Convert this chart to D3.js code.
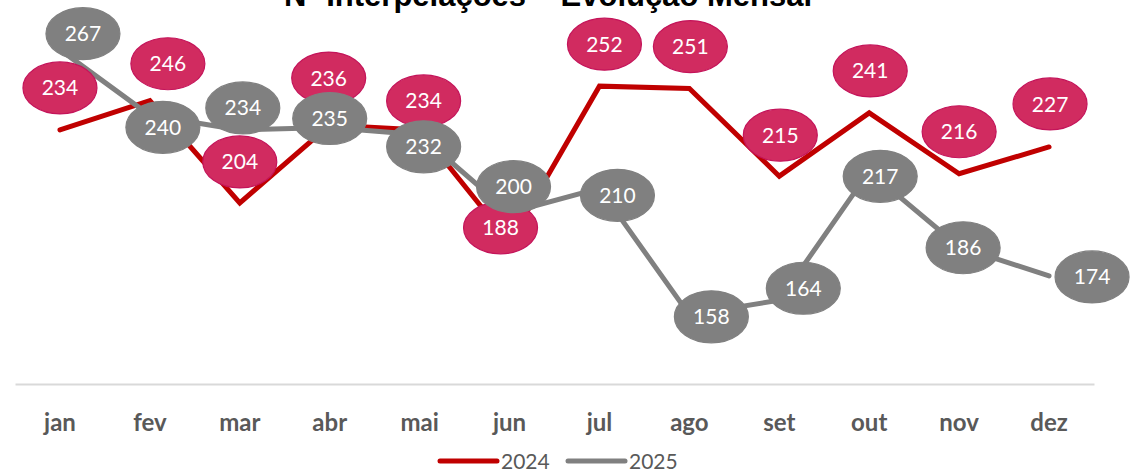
<!DOCTYPE html>
<html>
<head>
<meta charset="utf-8" />
<title>Nº Interpelações – Evolução Mensal</title>
<script src="https://d3js.org/d3.v7.min.js"></script>
<style>
  body, html {
    margin: 0;
    background: #ffffff;
  }
  svg text { font-family: Lato, 'Open Sans', sans-serif; }
</style>
</head>
<body>
<svg id="viz"></svg>

<script>

// data
var months = ['jan','fev','mar','abr','mai','jun','jul','ago','set','out','nov','dez'];
var values2024 = [234, 246, 204, 236, 234, 188, 252, 251, 215, 241, 216, 227];
var values2025 = [267, 240, 234, 235, 232, 200, 210, 158, 164, 217, 186, 174];
var seriesNames = ['2024', '2025'];

// hand placed label nudges (label centre minus point), like Excel's moved labels
var nudge2024 = [[0,-42],[18,-37],[0,-41],[-1,-47],[4,-29],[-9,-14],[5,-42],[1,-42],[1,-41],[1,-42],[0,-42],[1,-43]];
var nudge2025 = [[23,-16],[13,12],[3,-22],[0,-9],[4,12],[4,-26],[18,7],[22,2],[24,-12],[11,5],[4,1],[43,1]];

var width = 1138, height = 472;

var svg = d3.select("#viz")
  .attr("width", width)
  .attr("height", height);

var xScale = d3.scaleBand()
  .domain(months)
  .range([15, 1094]);

var yScale = d3.scaleLinear()
  .domain([130, 280])
  .range([383, 18]);

function cx(m) { return xScale(m) + xScale.bandwidth() / 2; }

// title, cut at the top like the source
svg.append("text")
  .attr("x", 548)
  .attr("y", 6)
  .attr("text-anchor", "middle")
  .style("font-family", "'Liberation Sans', Arial, sans-serif")
  .style("font-weight", "bold")
  .style("font-size", "31px")
  .style("fill", "#000000")
  .text("Nº Interpelações – Evolução Mensal");

// category axis
var xAxis = d3.axisBottom(xScale).tickSize(0).tickPadding(30);
var gx = svg.append("g")
  .attr("transform", "translate(0," + (yScale(130) + 1) + ")")
  .call(xAxis);
gx.select(".domain").attr("stroke", "#d9d9d9").attr("stroke-width", 2);
gx.selectAll(".tick text")
  .style("font-family", "Lato, sans-serif")
  .style("font-weight", "bold")
  .style("font-size", "24px")
  .style("fill", "#595959");

var series = [
  { name: '2024', values: values2024, line: '#c00000', fill: '#d12b60', stroke: '#c4145a', nudge: nudge2024 },
  { name: '2025', values: values2025, line: '#808080', fill: '#808080', stroke: '#808080', nudge: nudge2025 }
];

var line = d3.line()
  .x(function(d, i) { return cx(months[i]); })
  .y(function(d) { return yScale(d); });

series.forEach(function(s) {
  svg.append("path")
    .datum(s.values)
    .attr("d", line)
    .attr("fill", "none")
    .attr("stroke", s.line)
    .attr("stroke-width", 5)
    .attr("stroke-linecap", "round")
    .attr("stroke-linejoin", "miter");
});

series.forEach(function(s) {
  var g = svg.append("g");
  var lab = g.selectAll("g")
    .data(s.values)
    .enter().append("g")
    .attr("transform", function(d, i) {
      return "translate(" + (cx(months[i]) + s.nudge[i][0]) + "," + (yScale(d) + s.nudge[i][1]) + ")";
    });
  lab.append("ellipse")
    .attr("rx", 37)
    .attr("ry", 26)
    .attr("fill", s.fill)
    .attr("stroke", s.stroke)
    .attr("stroke-width", 1.2);
  lab.append("text")
    .attr("text-anchor", "middle")
    .attr("dy", "0.36em")
    .style("font-size", "21px")
    .style("fill", "#ffffff")
    .text(function(d) { return d; });
});

// legend
var legend = svg.append("g").attr("transform", "translate(440,461)");
var legX = [0, 128];
series.forEach(function(s, i) {
  legend.append("line")
    .attr("x1", legX[i]).attr("x2", legX[i] + 57)
    .attr("y1", 0).attr("y2", 0)
    .attr("stroke", s.line)
    .attr("stroke-width", 5)
    .attr("stroke-linecap", "round");
  legend.append("text")
    .attr("x", legX[i] + 61)
    .attr("y", 8)
    .style("font-size", "21px")
    .style("fill", "#595959")
    .text(seriesNames[i]);
});

</script>
</body>
</html>
